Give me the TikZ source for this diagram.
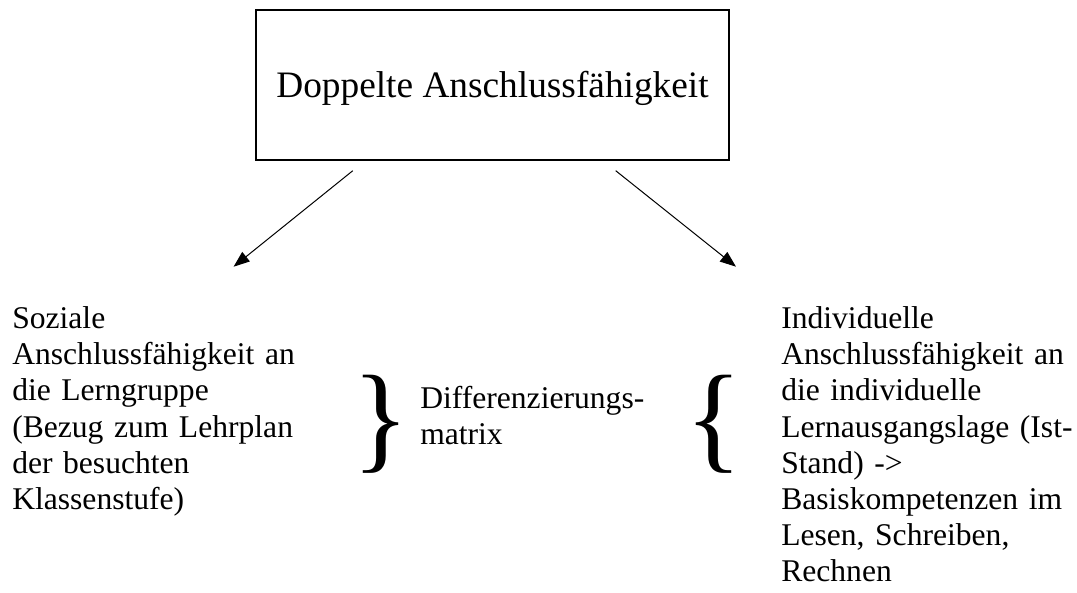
\documentclass[tikz,border=0pt]{standalone}
\usepackage{fontspec}
\setmainfont{Liberation Serif}
\usetikzlibrary{arrows.meta}
\tikzset{
  txt/.style={inner sep=0pt, anchor=base west, align=left, text width=300pt,
              font=\fontsize{23.7}{27.15}\selectfont},
  arr/.style={-{Triangle[length=12pt,width=9pt]}, line width=0.75pt},
  bracenode/.style={inner sep=0pt, font=\fontsize{89}{89}\selectfont},
  titlebox/.style={draw, line width=1.1pt, inner sep=0pt,
              minimum width=354.75pt, minimum height=112.5pt,
              text height=19.5pt, text depth=0pt,
              font=\fontsize{28}{34}\selectfont}
}
\begin{document}
\begin{tikzpicture}[x=0.75pt,y=-0.75pt]
\useasboundingbox (0,0) rectangle (1077,592);
\node[titlebox] (top) at (492.5,85) {Doppelte Anschlussfähigkeit};
\coordinate (a1) at (352.8,170.7);
\coordinate (a1t) at (233.6,266.7);
\coordinate (a2) at (615.7,170.7);
\coordinate (a2t) at (736,266.7);
\draw[arr] (a1) -- (a1t);
\draw[arr] (a2) -- (a2t);
\node[txt] (left) at (12,328.5) {Soziale\\Anschlussfähigkeit an\\die Lerngruppe\\(Bezug zum Lehrplan\\der besuchten\\Klassenstufe)};
\node[txt] (mid) at (420,408) {Differenzierungs-\\matrix};
\node[txt] (right) at (781,328.5) {Individuelle\\Anschlussfähigkeit an\\die individuelle\\Lernausgangslage (Ist-\\Stand) ->\\Basiskompetenzen im\\Lesen, Schreiben,\\Rechnen};
\node[bracenode] (rb) at (380.5,424) {\}};
\node[bracenode] (lb) at (713.5,424) {\{};
\end{tikzpicture}
\end{document}
